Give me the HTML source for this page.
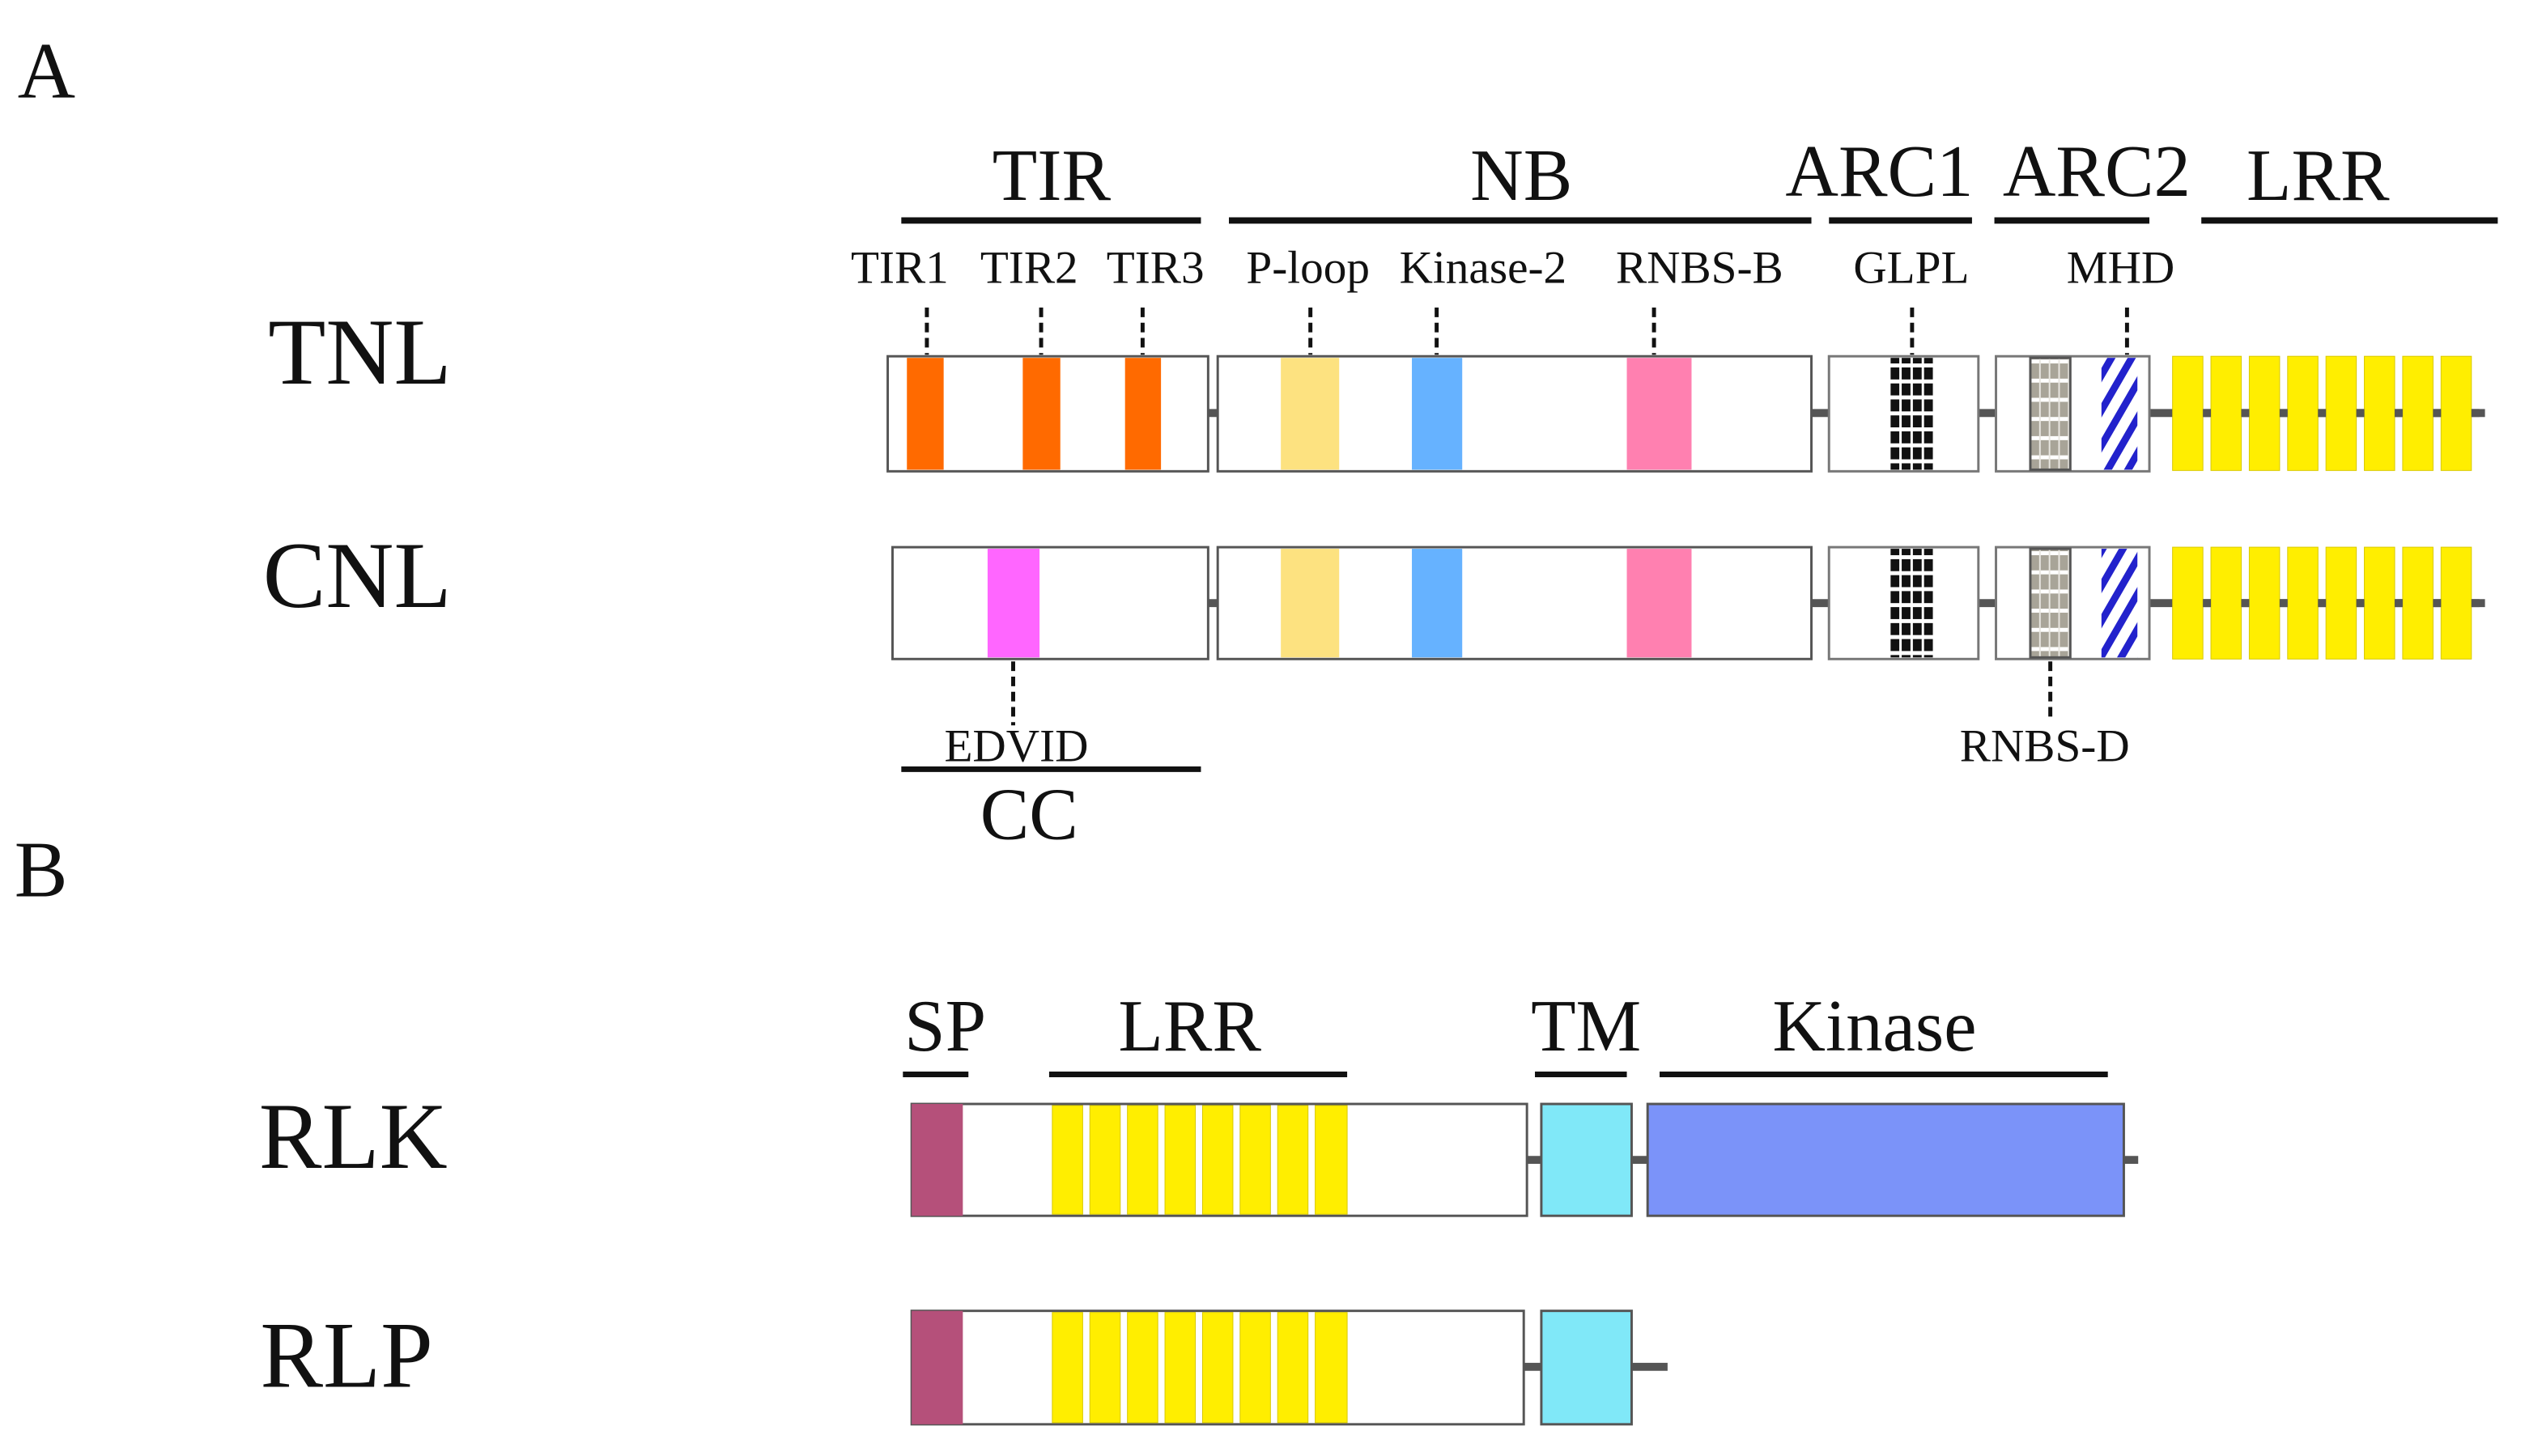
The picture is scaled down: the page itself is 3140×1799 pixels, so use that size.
<!DOCTYPE html>
<html><head><meta charset="utf-8"><style>
html,body{margin:0;padding:0;background:#fff;}
svg{display:block;}
text{font-family:"Liberation Serif",serif;fill:#111;}
</style></head><body>
<svg width="3140" height="1799" viewBox="0 0 3140 1799" xmlns="http://www.w3.org/2000/svg">
<defs>
<pattern id="glpl" width="14" height="20" patternUnits="userSpaceOnUse"><rect width="14" height="20" fill="#111"/><rect x="0" y="15" width="14" height="5" fill="#fff"/><rect x="11" y="0" width="3" height="20" fill="#fff"/></pattern>
<pattern id="rnbsd" width="12" height="24" patternUnits="userSpaceOnUse"><rect width="12" height="24" fill="#a8a498"/><rect x="0" y="18" width="12" height="5" fill="#fff"/><rect x="8" y="0" width="2" height="24" fill="#e8e6e0"/></pattern>
<pattern id="mhd" width="22" height="22" patternUnits="userSpaceOnUse" patternTransform="rotate(30)"><rect width="22" height="22" fill="#fff"/><rect width="9" height="22" fill="#2222cc"/></pattern>
</defs>
<g transform="scale(0.987)">
<text x="22" y="122" font-size="100">A</text>
<text x="18" y="1122" font-size="100">B</text>

<g font-size="92" text-anchor="middle">
<text x="1316" y="250">TIR</text><text x="1904" y="250">NB</text><text x="2352" y="245">ARC1</text><text x="2624" y="245">ARC2</text><text x="2901" y="250">LRR</text>
</g>
<g stroke="#111" stroke-width="8">
<line x1="1128" y1="276" x2="1503" y2="276"/><line x1="1538" y1="276" x2="2267" y2="276"/><line x1="2289" y1="276" x2="2468" y2="276"/><line x1="2496" y1="276" x2="2690" y2="276"/><line x1="2755" y1="276" x2="3126" y2="276"/>
</g>
<g font-size="58" text-anchor="middle">
<text x="1126" y="354">TIR1</text><text x="1288" y="354">TIR2</text><text x="1446" y="354">TIR3</text><text x="1637" y="354">P-loop</text><text x="1856" y="354">Kinase-2</text><text x="2127" y="354">RNBS-B</text><text x="2392" y="354">GLPL</text><text x="2654" y="354">MHD</text>
</g>
<g stroke="#111" stroke-width="5" stroke-dasharray="12,7">
<line x1="1160" y1="385" x2="1160" y2="444"/><line x1="1303" y1="385" x2="1303" y2="444"/><line x1="1430" y1="385" x2="1430" y2="444"/><line x1="1640" y1="385" x2="1640" y2="444"/><line x1="1798" y1="385" x2="1798" y2="444"/><line x1="2070" y1="385" x2="2070" y2="444"/><line x1="2393" y1="385" x2="2393" y2="444"/><line x1="2662" y1="385" x2="2662" y2="444"/>
<line x1="1268" y1="828" x2="1268" y2="908"/><line x1="2566" y1="828" x2="2566" y2="900"/>
</g>

<text x="565" y="480" font-size="118" text-anchor="end">TNL</text>
<text x="565" y="760" font-size="118" text-anchor="end">CNL</text>

<g>
<line x1="1512" y1="517" x2="3110" y2="517" stroke="#555" stroke-width="10"/>
<rect x="1111" y="446" width="401" height="144" fill="#fff" stroke="#555" stroke-width="3"/>
<rect x="1135" y="448" width="46" height="140" fill="#ff6a00"/>
<rect x="1280" y="448" width="47" height="140" fill="#ff6a00"/>
<rect x="1408" y="448" width="45" height="140" fill="#ff6a00"/>
<rect x="1524" y="446" width="743" height="144" fill="#fff" stroke="#555" stroke-width="3"/>
<rect x="1603" y="448" width="73" height="140" fill="#fde280"/>
<rect x="1767" y="448" width="63" height="140" fill="#66b2ff"/>
<rect x="2036" y="448" width="81" height="140" fill="#ff80b0"/>
<rect x="2289" y="446" width="187" height="144" fill="#fff" stroke="#777" stroke-width="3"/>
<rect x="2366" y="448" width="55" height="140" fill="url(#glpl)"/>
<rect x="2498" y="446" width="192" height="144" fill="#fff" stroke="#777" stroke-width="3"/>
<rect x="2541" y="448" width="50" height="140" fill="url(#rnbsd)" stroke="#555" stroke-width="3"/>
<rect x="2630" y="448" width="45" height="140" fill="url(#mhd)"/>
<g fill="#ffee00" stroke="#d8c800" stroke-width="1">
<rect x="2719" y="446" width="38" height="143"/><rect x="2767" y="446" width="38" height="143"/><rect x="2815" y="446" width="38" height="143"/><rect x="2863" y="446" width="38" height="143"/><rect x="2911" y="446" width="38" height="143"/><rect x="2959" y="446" width="38" height="143"/><rect x="3007" y="446" width="38" height="143"/><rect x="3055" y="446" width="38" height="143"/>
</g>
<line x1="2719" y1="517" x2="3110" y2="517" stroke="#555" stroke-width="10" stroke-dasharray="10,38" stroke-dashoffset="-38"/>
</g>

<g>
<line x1="1512" y1="755" x2="3110" y2="755" stroke="#555" stroke-width="10"/>
<rect x="1117" y="685" width="395" height="140" fill="#fff" stroke="#555" stroke-width="3"/>
<rect x="1236" y="687" width="65" height="136" fill="#ff66ff"/>
<rect x="1524" y="685" width="743" height="140" fill="#fff" stroke="#555" stroke-width="3"/>
<rect x="1603" y="687" width="73" height="136" fill="#fde280"/>
<rect x="1767" y="687" width="63" height="136" fill="#66b2ff"/>
<rect x="2036" y="687" width="81" height="136" fill="#ff80b0"/>
<rect x="2289" y="685" width="187" height="140" fill="#fff" stroke="#777" stroke-width="3"/>
<rect x="2366" y="687" width="55" height="136" fill="url(#glpl)"/>
<rect x="2498" y="685" width="192" height="140" fill="#fff" stroke="#777" stroke-width="3"/>
<rect x="2541" y="687" width="50" height="136" fill="url(#rnbsd)" stroke="#555" stroke-width="3"/>
<rect x="2630" y="687" width="45" height="136" fill="url(#mhd)"/>
<g fill="#ffee00" stroke="#d8c800" stroke-width="1">
<rect x="2719" y="685" width="38" height="140"/><rect x="2767" y="685" width="38" height="140"/><rect x="2815" y="685" width="38" height="140"/><rect x="2863" y="685" width="38" height="140"/><rect x="2911" y="685" width="38" height="140"/><rect x="2959" y="685" width="38" height="140"/><rect x="3007" y="685" width="38" height="140"/><rect x="3055" y="685" width="38" height="140"/>
</g>
<line x1="2719" y1="755" x2="3110" y2="755" stroke="#555" stroke-width="10" stroke-dasharray="10,38" stroke-dashoffset="-38"/>
</g>

<text x="1272" y="953" font-size="58" text-anchor="middle">EDVID</text>
<line x1="1128" y1="963" x2="1503" y2="963" stroke="#111" stroke-width="7"/>
<text x="1288" y="1050" font-size="92" text-anchor="middle">CC</text>
<text x="2559" y="953" font-size="58" text-anchor="middle">RNBS-D</text>

<g font-size="92" text-anchor="middle">
<text x="1183" y="1315">SP</text><text x="1489" y="1315">LRR</text><text x="1985" y="1315">TM</text><text x="2346" y="1315">Kinase</text>
</g>
<g stroke="#111" stroke-width="7">
<line x1="1130" y1="1345" x2="1212" y2="1345"/><line x1="1313" y1="1345" x2="1686" y2="1345"/><line x1="1921" y1="1345" x2="2036" y2="1345"/><line x1="2077" y1="1345" x2="2638" y2="1345"/>
</g>
<text x="560" y="1462" font-size="118" text-anchor="end">RLK</text>
<text x="542" y="1736" font-size="118" text-anchor="end">RLP</text>

<g>
<line x1="1911" y1="1452" x2="2676" y2="1452" stroke="#555" stroke-width="10"/>
<rect x="1141" y="1382" width="770" height="140" fill="#fff" stroke="#555" stroke-width="3"/>
<rect x="1141" y="1382" width="64" height="140" fill="#b5507a"/>
<g fill="#ffee00" stroke="#d8c800" stroke-width="1">
<rect x="1317" y="1384" width="38" height="136"/><rect x="1364" y="1384" width="38" height="136"/><rect x="1411" y="1384" width="38" height="136"/><rect x="1458" y="1384" width="38" height="136"/><rect x="1505" y="1384" width="38" height="136"/><rect x="1552" y="1384" width="38" height="136"/><rect x="1599" y="1384" width="38" height="136"/><rect x="1646" y="1384" width="40" height="136"/>
</g>
<rect x="1929" y="1382" width="113" height="140" fill="#80e8f8" stroke="#555" stroke-width="3"/>
<rect x="2062" y="1382" width="596" height="140" fill="#7b93f9" stroke="#555" stroke-width="3"/>
</g>

<g>
<line x1="1907" y1="1711" x2="2087" y2="1711" stroke="#555" stroke-width="10"/>
<rect x="1141" y="1641" width="766" height="142" fill="#fff" stroke="#555" stroke-width="3"/>
<rect x="1141" y="1641" width="64" height="142" fill="#b5507a"/>
<g fill="#ffee00" stroke="#d8c800" stroke-width="1">
<rect x="1317" y="1643" width="38" height="138"/><rect x="1364" y="1643" width="38" height="138"/><rect x="1411" y="1643" width="38" height="138"/><rect x="1458" y="1643" width="38" height="138"/><rect x="1505" y="1643" width="38" height="138"/><rect x="1552" y="1643" width="38" height="138"/><rect x="1599" y="1643" width="38" height="138"/><rect x="1646" y="1643" width="40" height="138"/>
</g>
<rect x="1929" y="1641" width="113" height="142" fill="#80e8f8" stroke="#555" stroke-width="3"/>
</g>
</g>
</svg>
</body></html>
